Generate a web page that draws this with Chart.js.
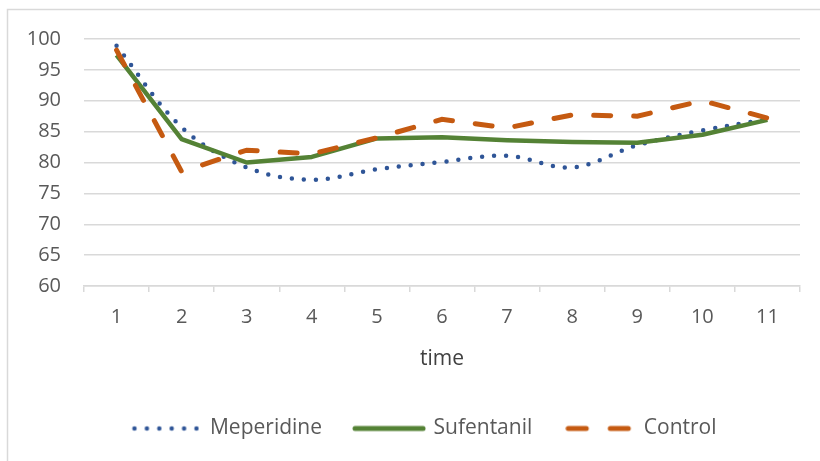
<!DOCTYPE html>
<html>
<head>
<meta charset="utf-8">
<script src="https://cdn.jsdelivr.net/npm/chart.js@4"></script>
<style>
  html, body { margin: 0; padding: 0; background: #fff; overflow: hidden; }
  #wrap { width: 820px; height: 461px; position: relative; }
</style>
</head>
<body>
<div id="wrap"><canvas id="chart"></canvas></div>
<script>
// data
var timeLabels = ['1', '2', '3', '4', '5', '6', '7', '8', '9', '10', '11'];
var meperidine = [98.9, 85.7, 79.2, 77.2, 78.9, 80.1, 81.1, 79.2, 82.8, 85.2, 87.0];
var sufentanil = [97.4, 83.8, 80.0, 80.9, 83.9, 84.1, 83.6, 83.3, 83.2, 84.5, 86.9];
var control = [98.2, 78.5, 82.0, 81.4, 84.0, 87.0, 85.6, 87.7, 87.5, 90.0, 87.2];
var yTicks = [60, 65, 70, 75, 80, 85, 90, 95, 100];

var blue = '#2F5597', green = '#548235', orange = '#C55A11';
var grey = '#d9d9d9', textCol = '#595959';
var font = '"Open Sans", sans-serif';

// little line samples for the legend
function sample(color, width, dash, w) {
  var c = document.createElement('canvas');
  c.width = w; c.height = 10;
  var g = c.getContext('2d');
  g.strokeStyle = color;
  g.lineWidth = width;
  g.lineCap = 'round';
  g.setLineDash(dash);
  g.beginPath();
  g.moveTo(3, 5);
  g.lineTo(w - 3, 5);
  g.stroke();
  return c;
}
var samples = [
  sample(blue, 4.5, [0, 12.4], 68),
  sample(green, 5, [], 74),
  sample(orange, 5, [18, 24], 68)
];

// outer frame of the chart (only top and left show)
var framePlugin = {
  id: 'frame',
  beforeDraw: function(chart) {
    var c = chart.ctx;
    c.save();
    c.strokeStyle = grey;
    c.lineWidth = 1.5;
    c.beginPath();
    c.moveTo(7.5, 461);
    c.lineTo(7.5, 9.5);
    c.lineTo(820, 9.5);
    c.stroke();
    c.restore();
  },
  // legend sits a bit right of the canvas centre
  afterLayout: function(chart) {
    if (chart.legend) {
      chart.legend.left += 11;
      chart.legend.right += 11;
    }
  }
};

var ctx = document.getElementById('chart').getContext('2d');
var chart = new Chart(ctx, {
  type: 'line',
  data: {
    labels: timeLabels,
    datasets: [{
      label: 'Meperidine',
      data: meperidine,
      borderColor: blue,
      backgroundColor: blue,
      borderWidth: 4.5,
      borderDash: [0, 12],
      borderCapStyle: 'round',
      tension: 0.35,
      pointRadius: 0,
      order: 3
    }, {
      label: 'Sufentanil',
      data: sufentanil,
      borderColor: green,
      backgroundColor: green,
      borderWidth: 4.5,
      borderJoinStyle: 'round',
      tension: 0,
      pointRadius: 0,
      order: 2
    }, {
      label: 'Control',
      data: control,
      borderColor: orange,
      backgroundColor: orange,
      borderWidth: 5,
      borderDash: [17, 23],
      borderCapStyle: 'round',
      tension: 0,
      pointRadius: 0,
      order: 1
    }]
  },
  options: {
    responsive: true,
    maintainAspectRatio: false,
    animation: false,
    layout: { padding: { left: 26, right: 20, top: 39, bottom: 12 } },
    scales: {
      x: {
        offset: true,
        grid: { offset: true, drawOnChartArea: false, drawTicks: true, tickLength: 6, color: grey, lineWidth: 1.5 },
        border: { display: true, color: grey, width: 1.5 },
        ticks: { color: textCol, font: { family: font, size: 20 }, padding: 13, maxRotation: 0 },
        title: { display: true, text: 'time', color: '#404040', font: { family: font, size: 21 }, padding: { top: 0, bottom: 13 } },
        afterFit: function(scale) { scale.height = 99; }
      },
      y: {
        min: 60,
        max: 100,
        afterBuildTicks: function(scale) { scale.ticks = yTicks.map(function(v) { return { value: v }; }); },
        grid: { color: grey, lineWidth: 1.5, drawTicks: false },
        border: { display: false },
        ticks: { color: textCol, font: { family: font, size: 20 }, padding: 23 },
        afterFit: function(scale) { scale.width = 58; }
      }
    },
    plugins: {
      tooltip: { enabled: false },
      legend: {
        position: 'bottom',
        labels: {
          usePointStyle: true,
          pointStyleWidth: 68,
          padding: 33,
          color: textCol,
          font: { family: font, size: 21 },
          sort: function(a, b) { return a.datasetIndex - b.datasetIndex; },
          generateLabels: function(chart) {
            var items = Chart.defaults.plugins.legend.labels.generateLabels(chart);
            items.forEach(function(it) { it.pointStyle = samples[it.datasetIndex]; });
            return items;
          }
        }
      }
    }
  },
  plugins: [framePlugin]
});
</script>
</body>
</html>
